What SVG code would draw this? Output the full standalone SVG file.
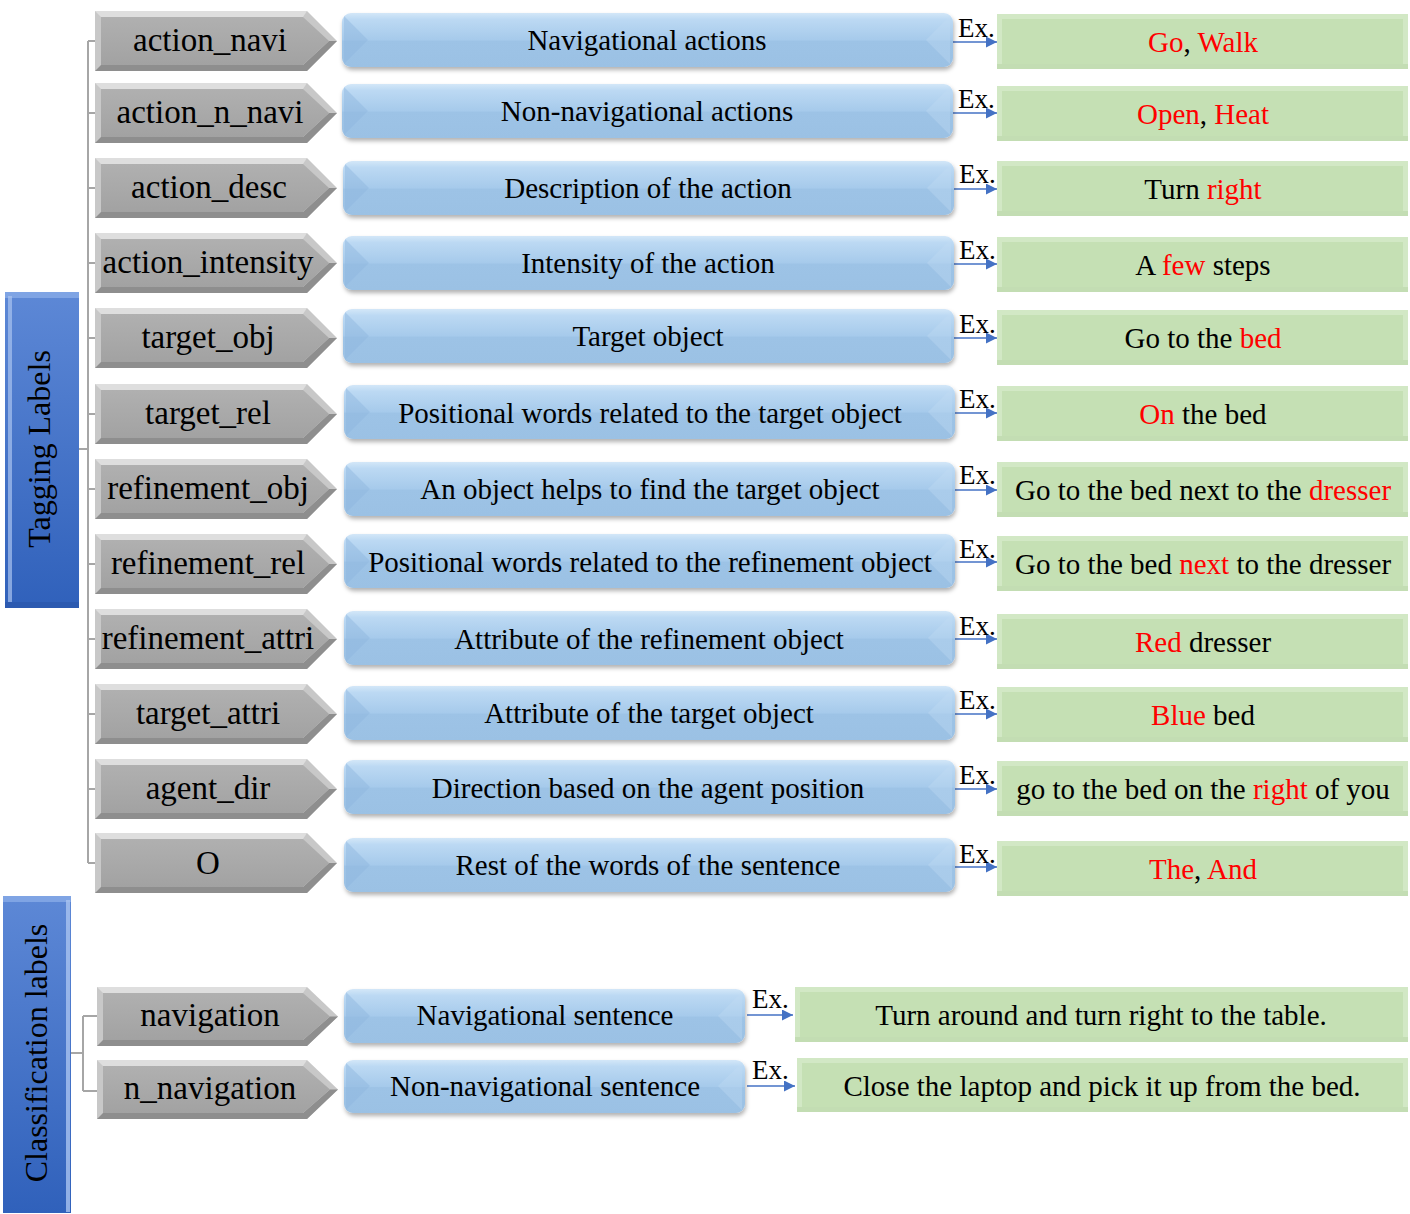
<svg xmlns="http://www.w3.org/2000/svg" xmlns:xlink="http://www.w3.org/1999/xlink" width="1410" height="1214" viewBox="0 0 1410 1214">
<defs>
<style>
text{font-family:"Liberation Serif","Times New Roman",serif;fill:#000}
.cl{font-size:33px;text-anchor:middle}
.bt{font-size:29px;text-anchor:middle}
.gt{font-size:29px;text-anchor:middle}
.ex{font-size:27px}
.r{fill:#ff0000}
.side{font-size:32px;text-anchor:middle}
.tree{stroke:#a6a6a6;stroke-width:2;fill:none}
.arr{stroke:#4472c4;stroke-width:1.6;fill:none}
.bb{fill:url(#gBlue);filter:url(#sh)}
.bl{fill:#8db6dd;opacity:.45}
.br{fill:#c2dcf4;opacity:.35}
.go{fill:#d2e8c5}
.gi{fill:#c5e0b4}
.gb{fill:#b9d6a6;opacity:.6}
</style>
<linearGradient id="gBlue" x1="0" y1="0" x2="0" y2="1">
<stop offset="0" stop-color="#d3e7f8"/>
<stop offset="0.12" stop-color="#bcd9f3"/>
<stop offset="0.5" stop-color="#a6caeb"/>
<stop offset="0.52" stop-color="#9dc3e6"/>
<stop offset="1" stop-color="#9bc1e4"/>
</linearGradient>
<linearGradient id="gGray" x1="0" y1="0" x2="0" y2="1">
<stop offset="0" stop-color="#b0b0b0"/>
<stop offset="1" stop-color="#a2a2a2"/>
</linearGradient>
<linearGradient id="gSide" x1="0" y1="0" x2="0" y2="1">
<stop offset="0" stop-color="#5d88d6"/>
<stop offset="1" stop-color="#3061bb"/>
</linearGradient>
<filter id="sh" x="-5%" y="-20%" width="110%" height="150%">
<feDropShadow dx="1" dy="3" stdDeviation="2" flood-color="#000" flood-opacity="0.3"/>
</filter>
<marker id="ah" viewBox="0 0 10 10" refX="10" refY="5" markerWidth="11" markerHeight="11" markerUnits="userSpaceOnUse" orient="auto">
<path d="M0,0 L10,5 L0,10 z" fill="#4472c4"/>
</marker>
<g id="chev">
<polygon points="0,0 212,0 242,30 212,60 0,60" fill="#c8c8c8"/>
<polygon points="0,0 212,0 208,6 6,6" fill="#dedede"/>
<polygon points="0,60 212,60 242,30 234,30 208,54 6,54" fill="#8e8e8e"/>
<polygon points="6,6 208,6 234,30 208,54 6,54" fill="url(#gGray)"/>
</g>
<g id="chevB">
<polygon points="0,0 210,0 241,29.5 210,59 0,59" fill="#c8c8c8"/>
<polygon points="0,0 210,0 206,6 6,6" fill="#dedede"/>
<polygon points="0,59 210,59 241,29.5 233,29.5 206,53 6,53" fill="#8e8e8e"/>
<polygon points="6,6 206,6 233,29.5 206,53 6,53" fill="url(#gGray)"/>
</g>
</defs>

<g id="connectors">
<path class="tree" d="M79,449 H88 M88,41 V863 M88,41 H95 M88,113 H95 M88,188 H95 M88,263 H95 M88,338 H95 M88,414 H95 M88,489 H95 M88,564 H95 M88,639 H95 M88,714 H95 M88,789 H95 M88,863 H95"/>
<path class="tree" d="M71,1053 H83 M83,1016 V1091 M83,1016 H97 M83,1091 H97"/>
<line class="arr" marker-end="url(#ah)" x1="953" y1="42" x2="997" y2="42"/>
<line class="arr" marker-end="url(#ah)" x1="953" y1="113" x2="997" y2="113"/>
<line class="arr" marker-end="url(#ah)" x1="954" y1="189" x2="997" y2="189"/>
<line class="arr" marker-end="url(#ah)" x1="954" y1="264" x2="997" y2="264"/>
<line class="arr" marker-end="url(#ah)" x1="954" y1="338" x2="997" y2="338"/>
<line class="arr" marker-end="url(#ah)" x1="955" y1="413" x2="997" y2="413"/>
<line class="arr" marker-end="url(#ah)" x1="955" y1="490" x2="997" y2="490"/>
<line class="arr" marker-end="url(#ah)" x1="955" y1="562" x2="997" y2="562"/>
<line class="arr" marker-end="url(#ah)" x1="955" y1="639" x2="997" y2="639"/>
<line class="arr" marker-end="url(#ah)" x1="955" y1="714" x2="997" y2="714"/>
<line class="arr" marker-end="url(#ah)" x1="955" y1="789" x2="997" y2="789"/>
<line class="arr" marker-end="url(#ah)" x1="955" y1="867" x2="997" y2="867"/>
<line class="arr" marker-end="url(#ah)" x1="747" y1="1015" x2="793" y2="1015"/>
<line class="arr" marker-end="url(#ah)" x1="747" y1="1086" x2="795" y2="1086"/>
</g>

<g id="tagging-labels">
<rect x="5" y="292" width="74" height="316" fill="url(#gSide)"/>
<rect x="5" y="292" width="74" height="6" fill="#8fb0ea" opacity=".7"/>
<rect x="8" y="296" width="4" height="306" fill="#a9c3f0" opacity=".7"/>
<rect x="5" y="602" width="74" height="6" fill="#2a55a8" opacity=".6"/>
<text class="side" transform="translate(50,449) rotate(-90)">Tagging Labels</text>
</g>

<g id="classification-labels">
<rect x="3" y="896" width="68" height="317" fill="url(#gSide)"/>
<rect x="3" y="896" width="68" height="6" fill="#8fb0ea" opacity=".7"/>
<rect x="66" y="900" width="4" height="312" fill="#a9c3f0" opacity=".8"/>
<text class="side" transform="translate(47,1053) rotate(-90)">Classification labels</text>
</g>

<!-- Row 1 -->
<g id="n-action_navi">
<use href="#chev" x="95" y="11"/>
<text class="cl" x="210" y="51">action_navi</text>
</g>
<g id="d-action_navi">
<rect class="bb" x="342" y="13" width="611" height="54" rx="9"/>
<polygon class="bl" points="344,16 368,40 344,64"/>
<polygon class="br" points="950,16 926,40 950,64"/>
<text class="bt" x="647" y="50">Navigational actions</text>
</g>
<text class="ex" x="958" y="37">Ex.</text>
<g id="e-action_navi">
<rect class="go" x="997" y="14" width="411" height="55"/>
<rect class="gb" x="997" y="64" width="411" height="5"/>
<rect class="gi" x="1002" y="19" width="401" height="45"/>
<text class="gt" x="1203" y="52"><tspan class="r">Go</tspan>, <tspan class="r">Walk</tspan></text>
</g>

<!-- Row 2 -->
<g id="n-action_n_navi">
<use href="#chev" x="95" y="83"/>
<text class="cl" x="210" y="123">action_n_navi</text>
</g>
<g id="d-action_n_navi">
<rect class="bb" x="342" y="84" width="611" height="54" rx="9"/>
<polygon class="bl" points="344,87 368,111 344,135"/>
<polygon class="br" points="950,87 926,111 950,135"/>
<text class="bt" x="647" y="121">Non-navigational actions</text>
</g>
<text class="ex" x="958" y="108">Ex.</text>
<g id="e-action_n_navi">
<rect class="go" x="997" y="86" width="411" height="55"/>
<rect class="gb" x="997" y="136" width="411" height="5"/>
<rect class="gi" x="1002" y="91" width="401" height="45"/>
<text class="gt" x="1203" y="124"><tspan class="r">Open</tspan>, <tspan class="r">Heat</tspan></text>
</g>

<!-- Row 3 -->
<g id="n-action_desc">
<use href="#chev" x="95" y="158"/>
<text class="cl" x="209" y="198">action_desc</text>
</g>
<g id="d-action_desc">
<rect class="bb" x="343" y="161" width="611" height="54" rx="9"/>
<polygon class="bl" points="345,164 369,188 345,212"/>
<polygon class="br" points="951,164 927,188 951,212"/>
<text class="bt" x="648" y="198">Description of the action</text>
</g>
<text class="ex" x="959" y="183">Ex.</text>
<g id="e-action_desc">
<rect class="go" x="997" y="161" width="411" height="55"/>
<rect class="gb" x="997" y="211" width="411" height="5"/>
<rect class="gi" x="1002" y="166" width="401" height="45"/>
<text class="gt" x="1203" y="199">Turn <tspan class="r">right</tspan></text>
</g>

<!-- Row 4 -->
<g id="n-action_intensity">
<use href="#chev" x="95" y="233"/>
<text class="cl" x="208" y="273">action_intensity</text>
</g>
<g id="d-action_intensity">
<rect class="bb" x="343" y="236" width="611" height="54" rx="9"/>
<polygon class="bl" points="345,239 369,263 345,287"/>
<polygon class="br" points="951,239 927,263 951,287"/>
<text class="bt" x="648" y="273">Intensity of the action</text>
</g>
<text class="ex" x="959" y="259">Ex.</text>
<g id="e-action_intensity">
<rect class="go" x="997" y="237" width="411" height="55"/>
<rect class="gb" x="997" y="287" width="411" height="5"/>
<rect class="gi" x="1002" y="242" width="401" height="45"/>
<text class="gt" x="1203" y="275">A <tspan class="r">few</tspan> steps</text>
</g>

<!-- Row 5 -->
<g id="n-target_obj">
<use href="#chev" x="95" y="308"/>
<text class="cl" x="208" y="348">target_obj</text>
</g>
<g id="d-target_obj">
<rect class="bb" x="343" y="309" width="611" height="54" rx="9"/>
<polygon class="bl" points="345,312 369,336 345,360"/>
<polygon class="br" points="951,312 927,336 951,360"/>
<text class="bt" x="648" y="346">Target object</text>
</g>
<text class="ex" x="959" y="333">Ex.</text>
<g id="e-target_obj">
<rect class="go" x="997" y="310" width="411" height="55"/>
<rect class="gb" x="997" y="360" width="411" height="5"/>
<rect class="gi" x="1002" y="315" width="401" height="45"/>
<text class="gt" x="1203" y="348">Go to the <tspan class="r">bed</tspan></text>
</g>

<!-- Row 6 -->
<g id="n-target_rel">
<use href="#chev" x="95" y="384"/>
<text class="cl" x="208" y="424">target_rel</text>
</g>
<g id="d-target_rel">
<rect class="bb" x="344" y="385" width="611" height="54" rx="9"/>
<polygon class="bl" points="346,388 370,412 346,436"/>
<polygon class="br" points="952,388 928,412 952,436"/>
<text class="bt" x="650" y="423">Positional words related to the target object</text>
</g>
<text class="ex" x="959" y="408">Ex.</text>
<g id="e-target_rel">
<rect class="go" x="997" y="386" width="411" height="55"/>
<rect class="gb" x="997" y="436" width="411" height="5"/>
<rect class="gi" x="1002" y="391" width="401" height="45"/>
<text class="gt" x="1203" y="424"><tspan class="r">On</tspan> the bed</text>
</g>

<!-- Row 7 -->
<g id="n-refinement_obj">
<use href="#chev" x="95" y="459"/>
<text class="cl" x="208" y="499">refinement_obj</text>
</g>
<g id="d-refinement_obj">
<rect class="bb" x="344" y="462" width="611" height="54" rx="9"/>
<polygon class="bl" points="346,465 370,489 346,513"/>
<polygon class="br" points="952,465 928,489 952,513"/>
<text class="bt" x="650" y="499">An object helps to find the target object</text>
</g>
<text class="ex" x="959" y="484">Ex.</text>
<g id="e-refinement_obj">
<rect class="go" x="997" y="462" width="411" height="55"/>
<rect class="gb" x="997" y="512" width="411" height="5"/>
<rect class="gi" x="1002" y="467" width="401" height="45"/>
<text class="gt" x="1203" y="500">Go to the bed next to the <tspan class="r">dresser</tspan></text>
</g>

<!-- Row 8 -->
<g id="n-refinement_rel">
<use href="#chev" x="95" y="534"/>
<text class="cl" x="208" y="574">refinement_rel</text>
</g>
<g id="d-refinement_rel">
<rect class="bb" x="344" y="534" width="611" height="54" rx="9"/>
<polygon class="bl" points="346,537 370,561 346,585"/>
<polygon class="br" points="952,537 928,561 952,585"/>
<text class="bt" x="650" y="572">Positional words related to the refinement object</text>
</g>
<text class="ex" x="959" y="558">Ex.</text>
<g id="e-refinement_rel">
<rect class="go" x="997" y="536" width="411" height="55"/>
<rect class="gb" x="997" y="586" width="411" height="5"/>
<rect class="gi" x="1002" y="541" width="401" height="45"/>
<text class="gt" x="1203" y="574">Go to the bed <tspan class="r">next</tspan> to the dresser</text>
</g>

<!-- Row 9 -->
<g id="n-refinement_attri">
<use href="#chev" x="95" y="609"/>
<text class="cl" x="208" y="649">refinement_attri</text>
</g>
<g id="d-refinement_attri">
<rect class="bb" x="344" y="611" width="611" height="54" rx="9"/>
<polygon class="bl" points="346,614 370,638 346,662"/>
<polygon class="br" points="952,614 928,638 952,662"/>
<text class="bt" x="649" y="649">Attribute of the refinement object</text>
</g>
<text class="ex" x="959" y="635">Ex.</text>
<g id="e-refinement_attri">
<rect class="go" x="997" y="614" width="411" height="55"/>
<rect class="gb" x="997" y="664" width="411" height="5"/>
<rect class="gi" x="1002" y="619" width="401" height="45"/>
<text class="gt" x="1203" y="652"><tspan class="r">Red</tspan> dresser</text>
</g>

<!-- Row 10 -->
<g id="n-target_attri">
<use href="#chev" x="95" y="684"/>
<text class="cl" x="208" y="724">target_attri</text>
</g>
<g id="d-target_attri">
<rect class="bb" x="344" y="686" width="611" height="54" rx="9"/>
<polygon class="bl" points="346,689 370,713 346,737"/>
<polygon class="br" points="952,689 928,713 952,737"/>
<text class="bt" x="649" y="723">Attribute of the target object</text>
</g>
<text class="ex" x="959" y="709">Ex.</text>
<g id="e-target_attri">
<rect class="go" x="997" y="687" width="411" height="55"/>
<rect class="gb" x="997" y="737" width="411" height="5"/>
<rect class="gi" x="1002" y="692" width="401" height="45"/>
<text class="gt" x="1203" y="725"><tspan class="r">Blue</tspan> bed</text>
</g>

<!-- Row 11 -->
<g id="n-agent_dir">
<use href="#chev" x="95" y="759"/>
<text class="cl" x="208" y="799">agent_dir</text>
</g>
<g id="d-agent_dir">
<rect class="bb" x="344" y="760" width="611" height="54" rx="9"/>
<polygon class="bl" points="346,763 370,787 346,811"/>
<polygon class="br" points="952,763 928,787 952,811"/>
<text class="bt" x="648" y="798">Direction based on the agent position</text>
</g>
<text class="ex" x="959" y="784">Ex.</text>
<g id="e-agent_dir">
<rect class="go" x="997" y="761" width="411" height="55"/>
<rect class="gb" x="997" y="811" width="411" height="5"/>
<rect class="gi" x="1002" y="766" width="401" height="45"/>
<text class="gt" x="1203" y="799">go to the bed on the <tspan class="r">right</tspan> of you</text>
</g>

<!-- Row 12 -->
<g id="n-O">
<use href="#chev" x="95" y="833"/>
<text class="cl" x="208" y="874">O</text>
</g>
<g id="d-O">
<rect class="bb" x="344" y="838" width="611" height="54" rx="9"/>
<polygon class="bl" points="346,841 370,865 346,889"/>
<polygon class="br" points="952,841 928,865 952,889"/>
<text class="bt" x="648" y="875">Rest of the words of the sentence</text>
</g>
<text class="ex" x="959" y="863">Ex.</text>
<g id="e-O">
<rect class="go" x="997" y="841" width="411" height="55"/>
<rect class="gb" x="997" y="891" width="411" height="5"/>
<rect class="gi" x="1002" y="846" width="401" height="45"/>
<text class="gt" x="1203" y="879"><tspan class="r">The</tspan>, <tspan class="r">And</tspan></text>
</g>

<!-- Classification rows -->
<g id="n-navigation">
<use href="#chevB" x="97" y="987"/>
<text class="cl" x="210" y="1026">navigation</text>
</g>
<g id="d-navigation">
<rect class="bb" x="344" y="989" width="401" height="54" rx="9"/>
<polygon class="bl" points="346,992 370,1016 346,1040"/>
<polygon class="br" points="742,992 718,1016 742,1040"/>
<text class="bt" x="545" y="1025">Navigational sentence</text>
</g>
<text class="ex" x="752" y="1008">Ex.</text>
<g id="e-navigation">
<rect class="go" x="795" y="987" width="613" height="55"/>
<rect class="gb" x="795" y="1037" width="613" height="5"/>
<rect class="gi" x="800" y="992" width="603" height="45"/>
<text class="gt" x="1101" y="1025">Turn around and turn right to the table.</text>
</g>

<g id="n-n_navigation">
<use href="#chevB" x="97" y="1060"/>
<text class="cl" x="210" y="1099">n_navigation</text>
</g>
<g id="d-n_navigation">
<rect class="bb" x="344" y="1060" width="401" height="53" rx="9"/>
<polygon class="bl" points="346,1063 370,1086 346,1110"/>
<polygon class="br" points="742,1063 718,1086 742,1110"/>
<text class="bt" x="545" y="1096">Non-navigational sentence</text>
</g>
<text class="ex" x="752" y="1079">Ex.</text>
<g id="e-n_navigation">
<rect class="go" x="797" y="1058" width="611" height="54"/>
<rect class="gb" x="797" y="1107" width="611" height="5"/>
<rect class="gi" x="802" y="1063" width="601" height="44"/>
<text class="gt" x="1102" y="1096">Close the laptop and pick it up from the bed.</text>
</g>
</svg>
